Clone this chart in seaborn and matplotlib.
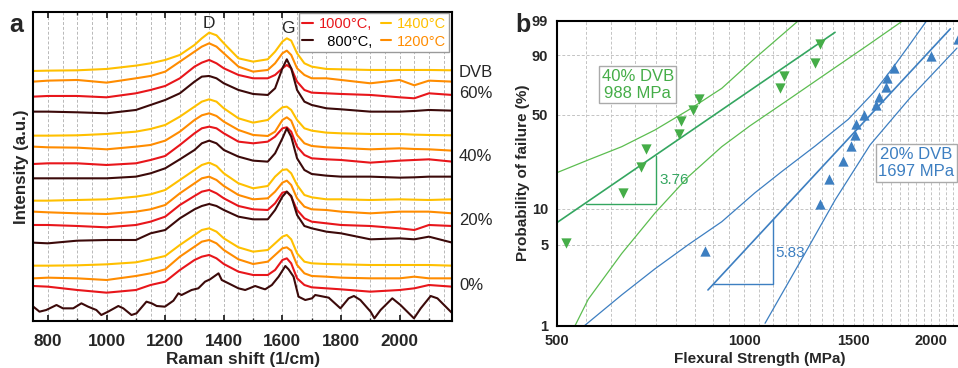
import numpy as np
import matplotlib
matplotlib.use('Agg')
import matplotlib.pyplot as plt
import seaborn as sns
from matplotlib.lines import Line2D
from matplotlib.ticker import FixedLocator, NullFormatter, NullLocator, MultipleLocator

# ---------------- panel a: stacked Raman spectra (a.u.) ----------------
raman_shift = [750, 800, 900, 1000, 1100, 1150, 1200, 1250, 1300, 1325, 1350, 1375, 1400, 1450, 1500,
               1550, 1575, 1600, 1615, 1630, 1650, 1675, 1700, 1750, 1800, 1900, 2000, 2050, 2100, 2180]

# DVB 60%
dvb60_1400 = [750, 751, 752, 756, 766, 773, 783, 798, 828, 848, 865, 857, 833, 788, 778,
              785, 808, 838, 848, 841, 803, 773, 763, 756, 755, 753, 753, 753, 753, 752]
dvb60_1200 = [718, 721, 723, 715, 728, 735, 748, 778, 808, 823, 833, 823, 803, 763, 748,
              753, 773, 803, 811, 798, 758, 738, 728, 728, 723, 713, 723, 707, 721, 718]
dvb60_1000 = [673, 675, 675, 671, 683, 693, 705, 728, 763, 775, 783, 773, 758, 738, 728,
              728, 738, 758, 768, 758, 718, 693, 685, 683, 681, 678, 671, 668, 683, 678]
dvb60_800 = [628, 628, 626, 623, 633, 648, 663, 683, 718, 733, 735, 728, 713, 693, 681,
             678, 698, 758, 785, 758, 693, 658, 648, 638, 635, 628, 628, 630, 633, 631]
# 40%
dvb40_1400 = [556, 556, 557, 561, 568, 576, 588, 613, 643, 658, 665, 658, 638, 608, 595,
              603, 623, 641, 643, 633, 603, 578, 571, 565, 563, 561, 561, 559, 558, 557]
dvb40_1200 = [523, 521, 520, 515, 523, 528, 541, 568, 603, 617, 623, 615, 598, 573, 558,
              555, 568, 603, 611, 601, 558, 533, 525, 521, 519, 515, 518, 516, 515, 511]
dvb40_1000 = [471, 473, 473, 468, 473, 483, 495, 528, 563, 578, 583, 578, 563, 538, 533,
              538, 553, 578, 581, 568, 523, 498, 488, 485, 483, 475, 481, 483, 485, 478]
dvb40_800 = [428, 428, 428, 428, 433, 443, 458, 485, 513, 533, 541, 533, 513, 493, 481,
             478, 503, 548, 578, 553, 488, 453, 441, 436, 433, 433, 430, 431, 433, 433]
# 20%
dvb20_1400 = [361, 361, 363, 365, 373, 380, 393, 423, 453, 468, 475, 465, 443, 413, 398,
              405, 433, 453, 455, 443, 408, 378, 371, 365, 365, 363, 365, 364, 363, 365]
dvb20_1200 = [328, 326, 323, 321, 328, 335, 348, 383, 413, 428, 433, 423, 405, 378, 365,
              368, 388, 415, 421, 408, 368, 343, 335, 333, 328, 323, 328, 328, 328, 323]
dvb20_1000 = [288, 288, 285, 281, 288, 298, 313, 348, 375, 388, 393, 383, 368, 345, 335,
              333, 353, 385, 388, 373, 333, 308, 298, 293, 288, 285, 278, 273, 288, 285]
dvb20_800 = [235, 233, 241, 243, 243, 263, 273, 308, 335, 345, 351, 345, 333, 313, 305,
             305, 333, 373, 388, 375, 318, 285, 278, 268, 263, 245, 248, 245, 253, 235]
# 0%
dvb0_1400 = [166, 166, 167, 170, 176, 185, 195, 228, 258, 273, 278, 268, 248, 221, 208,
             213, 233, 253, 258, 245, 203, 178, 173, 171, 170, 168, 168, 168, 168, 166]
dvb0_1200 = [128, 130, 128, 123, 135, 143, 155, 193, 223, 238, 243, 233, 213, 185, 171,
             178, 198, 218, 221, 211, 168, 143, 135, 133, 130, 128, 128, 133, 128, 128]
dvb0_1000 = [105, 103, 93, 85, 93, 108, 118, 153, 183, 193, 198, 188, 171, 148, 138,
             138, 153, 183, 188, 173, 128, 108, 101, 98, 95, 88, 93, 98, 108, 103]
raman_shift_0_800 = [750, 771, 794, 829, 851, 886, 914, 937, 965, 982, 1005, 1040, 1057, 1085, 1102,
                     1136, 1154, 1171, 1199, 1228, 1245, 1256, 1290, 1313, 1336, 1353, 1382, 1393, 1416,
                     1450, 1473, 1507, 1530, 1541, 1564, 1587, 1610, 1621, 1638, 1655, 1678, 1701, 1712,
                     1758, 1798, 1826, 1844, 1866, 1901, 1914, 1935, 1975, 2003, 2049, 2072, 2106, 2129, 2180]
dvb0_800 = [43, 28, 33, 48, 38, 38, 53, 43, 33, 18, 28, 45, 38, 18, 23,
            58, 53, 45, 43, 61, 83, 78, 93, 98, 118, 125, 143, 123, 113,
            98, 93, 105, 98, 95, 108, 133, 165, 155, 133, 73, 63, 68, 78,
            70, 38, 68, 75, 63, 28, 8, 33, 68, 48, 8, 38, 75, 68, 23]

raman_ticks = [800, 1000, 1200, 1400, 1600, 1800, 2000]
raman_tick_labels = ['800', '1000', '1200', '1400', '1600', '1800', '2000']
group_labels = ['DVB', '60%', '40%', '20%', '0%']
temp_colors = {'1400': '#FFC000', '1200': '#FF8C00', '1000': '#E8161B', '800': '#3C0A0A'}

# ---------------- panel b: Weibull plot ----------------
s40_strength = [516, 638, 682, 695, 785, 790, 828, 846, 1140, 1157, 1302, 1322]
s40_prob = [5.2, 13.4, 21.6, 29.5, 37.6, 45.6, 53.7, 61.8, 69.8, 78.0, 86.1, 94.5]
s20_strength = [863, 1325, 1367, 1442, 1485, 1510, 1514, 1560, 1627, 1650, 1691, 1700, 1739, 2000, 2205]
s20_prob = [4.4, 11.0, 17.5, 24.2, 30.8, 37.3, 43.7, 50.3, 56.8, 63.3, 70.0, 76.5, 83.0, 89.6, 95.8]

fit40_x = [500, 1400]
fit40_p = [7.7, 97.4]
up40_x = [500, 561, 635, 718, 813, 920, 1040, 1222]
up40_p = [19.6, 24.5, 30.7, 40.1, 53.5, 69.4, 88.5, 99.0]
lo40_x = [534, 561, 635, 718, 813, 920, 1021, 1160, 1357, 1580, 1800]
lo40_p = [1.0, 1.7, 4.2, 9.2, 18.2, 30.7, 42.7, 59.0, 79.8, 94.0, 99.0]

fit20_x = [874, 2146]
fit20_p = [2.04, 98.0]
up20_x = [553, 635, 718, 813, 920, 1040, 1150, 1300, 1470, 1620, 1740, 1850, 1966]
up20_p = [1.0, 1.85, 3.1, 5.0, 7.8, 13.5, 20.0, 31.0, 47.0, 67.0, 84.0, 94.5, 99.0]
lo20_x = [1080, 1252, 1400, 1594, 1848, 2200]
lo20_p = [1.05, 4.2, 11.8, 31.6, 62.3, 93.0]

slope40_x = [556, 722, 722]
slope40_p = [10.9, 10.9, 26.3]
slope20_x = [889, 1112, 1112]
slope20_p = [2.30, 2.30, 8.2]

prob_ticks = [1, 5, 10, 50, 90, 99]
prob_tick_labels = ['1', '5', '10', '50', '90', '99']
strength_ticks = [500, 1000, 1500, 2000]
strength_tick_labels = ['500', '1000', '1500', '2000']

green_fit = '#34A660'
green_band = '#5CBD50'
green_mark = '#45AD48'
blue = '#3D7FC1'

sns.set_style('white')
plt.rcParams['font.family'] = ['Liberation Sans', 'DejaVu Sans']
plt.rcParams['axes.linewidth'] = 1.5
plt.rcParams['axes.edgecolor'] = 'black'

fig = plt.figure(figsize=(9.58, 3.68), dpi=100)
ax_a = fig.add_axes([0.0348, 0.1277, 0.4374, 0.8389])
ax_b = fig.add_axes([0.5817, 0.1149, 0.4236, 0.8288])

# ---- panel a ----
for gx in range(800, 2180, 50):
    ax_a.axvline(gx, color='#b8b8b8', ls=(0, (3, 2)), lw=0.7, zorder=0)

traces = [
    (raman_shift, dvb60_1400, '1400'), (raman_shift, dvb60_1200, '1200'),
    (raman_shift, dvb60_1000, '1000'), (raman_shift, dvb60_800, '800'),
    (raman_shift, dvb40_1400, '1400'), (raman_shift, dvb40_1200, '1200'),
    (raman_shift, dvb40_1000, '1000'), (raman_shift, dvb40_800, '800'),
    (raman_shift, dvb20_1400, '1400'), (raman_shift, dvb20_1200, '1200'),
    (raman_shift, dvb20_1000, '1000'), (raman_shift, dvb20_800, '800'),
    (raman_shift, dvb0_1400, '1400'), (raman_shift, dvb0_1200, '1200'),
    (raman_shift, dvb0_1000, '1000'), (raman_shift_0_800, dvb0_800, '800'),
]
for xs, ys, temp in traces:
    sns.lineplot(x=xs, y=ys, ax=ax_a, color=temp_colors[temp], lw=1.5,
                 estimator=None, sort=False, legend=False)

ax_a.set_xlim(750, 2180)
ax_a.set_ylim(0, 926)
ax_a.set_xticks(raman_ticks, labels=raman_tick_labels, fontweight='bold', fontsize=12.3)
ax_a.xaxis.set_minor_locator(MultipleLocator(100))
ax_a.set_yticks([])
ax_a.tick_params(axis='x', which='both', direction='in', top=True, bottom=True)
ax_a.tick_params(axis='x', which='major', length=4, width=1.3, pad=9)
ax_a.tick_params(axis='x', which='minor', length=2.5, width=1.0)
ax_a.set_xlabel('Raman shift (1/cm)', fontsize=12.4, fontweight='bold', labelpad=2.5)
ax_a.set_ylabel('Intensity (a.u.)', fontsize=12.2, fontweight='bold', labelpad=3)

ax_a.text(1350, 891, 'D', fontsize=12.5, ha='center', va='center')
ax_a.text(1617, 876, 'G', fontsize=12.5, ha='center', va='center')
for lbl, hy in zip(group_labels, [746, 681, 493, 301, 108]):
    ax_a.text(1.016, hy, lbl, transform=ax_a.get_yaxis_transform(), fontsize=12,
              ha='left', va='center', clip_on=False)

handles = [Line2D([], [], color=temp_colors[t], lw=1.5) for t in ['1000', '800', '1400', '1200']]
leg = ax_a.legend(handles, ['1000°C,', '  800°C,', '1400°C', '1200°C'], ncol=2,
                  loc='upper right', bbox_to_anchor=(0.9928, 0.9968), borderaxespad=0,
                  fontsize=10.5, handlelength=0.7, handletextpad=0.4, columnspacing=0.6,
                  labelspacing=0.25, borderpad=0.25, frameon=True, fancybox=False,
                  framealpha=1, edgecolor='#9a9a9a')
leg.get_frame().set_linewidth(1.0)
for txt, t in zip(leg.get_texts(), ['1000', '800', '1400', '1200']):
    txt.set_color('black' if t == '800' else temp_colors[t])

# ---- panel b ----
def weib_fwd(p):
    p = np.clip(np.asarray(p, dtype=float), 1e-6, 100 - 1e-6)
    return np.log(-np.log(1 - p / 100.0))


def weib_inv(w):
    return 100.0 * (1 - np.exp(-np.exp(w)))


for xs, ps, col, lw in [(up40_x, up40_p, green_band, 0.9), (lo40_x, lo40_p, green_band, 0.9),
                        (fit40_x, fit40_p, green_fit, 1.2),
                        (up20_x, up20_p, blue, 0.9), (lo20_x, lo20_p, blue, 0.9),
                        (fit20_x, fit20_p, blue, 1.2)]:
    sns.lineplot(x=xs, y=ps, ax=ax_b, color=col, lw=lw, estimator=None, sort=False, legend=False)

ax_b.plot(slope40_x, slope40_p, color=green_fit, lw=1.0)
ax_b.plot(slope20_x, slope20_p, color=blue, lw=1.0)

sns.scatterplot(x=s40_strength, y=s40_prob, ax=ax_b, marker='v', s=55, color=green_mark,
                linewidth=0, legend=False, zorder=3)
sns.scatterplot(x=s20_strength, y=s20_prob, ax=ax_b, marker='^', s=55, color=blue,
                linewidth=0, legend=False, zorder=3)

ax_b.set_xscale('log')
ax_b.set_yscale('function', functions=(weib_fwd, weib_inv))
ax_b.set_xlim(500, 2250)
ax_b.set_ylim(1, 99)

minor_x = np.concatenate([np.linspace(a, a + 500, 10)[1:-1] for a in (500, 1000, 1500, 2000)])
ax_b.set_xticks(strength_ticks, labels=strength_tick_labels, fontweight='bold', fontsize=10.5)
ax_b.xaxis.set_minor_locator(FixedLocator(minor_x))
ax_b.xaxis.set_minor_formatter(NullFormatter())
ax_b.set_yticks(prob_ticks, labels=prob_tick_labels, fontweight='bold', fontsize=10.5)
ax_b.yaxis.set_minor_locator(NullLocator())
ax_b.tick_params(axis='x', which='major', direction='out', length=3, width=1.3, pad=3)
ax_b.tick_params(axis='x', which='minor', direction='out', length=2, width=1.0)
ax_b.tick_params(axis='y', which='major', direction='out', length=5, width=1.3, pad=1.5)
ax_b.grid(True, which='both', axis='x', ls=(0, (3, 2)), color='#c4c4c4', lw=0.7)
ax_b.grid(True, which='major', axis='y', ls=(0, (3, 2)), color='#c4c4c4', lw=0.7)
ax_b.set_axisbelow(True)
ax_b.set_xlabel('Flexural Strength (MPa)', fontsize=11, fontweight='bold', labelpad=3)
ax_b.set_ylabel('Probability of failure (%)', fontsize=11, fontweight='bold', labelpad=1)

box = dict(boxstyle='square,pad=0.15', fc='white', ec='#aaaaaa', lw=1.0)
ax_b.text(674, 72, '40% DVB\n988 MPa', color=green_mark, fontsize=12, ha='center', va='center',
          multialignment='center', bbox=box)
ax_b.text(1893, 23.2, '20% DVB\n1697 MPa', color=blue, fontsize=12, ha='center', va='center',
          multialignment='center', bbox=box)
ax_b.text(730, 17, '3.76', color=green_fit, fontsize=11, ha='left', va='center')
ax_b.text(1120, 4.2, '5.83', color=blue, fontsize=11, ha='left', va='center')

fig.text(0.017, 0.9122, 'a', fontsize=18, fontweight='bold', ha='center', va='baseline')
fig.text(0.5454, 0.9139, 'b', fontsize=18, fontweight='bold', ha='center', va='baseline')

fig.savefig('out.png', dpi=100)
